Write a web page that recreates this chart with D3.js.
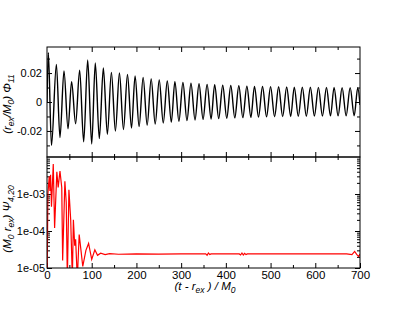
<!DOCTYPE html>
<html>
<head>
<meta charset="utf-8">
<script src="https://cdn.jsdelivr.net/npm/d3@7"></script>
<style>
body { margin: 0; background: #fff; }
svg { font-family: "Liberation Sans", Arial, sans-serif; }
</style>
</head>
<body>
<svg width="407" height="315"></svg>
<script>
// extrema of Phi_11
var phiT = [0, 3, 10, 21, 29, 38, 47, 55, 64, 73, 82, 91, 100, 108, 117, 126, 135,
    144, 153, 162, 171, 180, 189, 197, 206, 215, 224, 233, 242, 251, 260, 269, 278,
    286, 295, 304, 313, 322, 331, 340, 349, 358, 367, 375, 384, 393, 402, 411, 420,
    429, 438, 447, 456, 464, 473, 482, 491, 500, 509, 518, 527, 536, 545, 553, 562,
    571, 580, 589, 598, 607, 616, 625, 634, 642, 651, 660, 669, 678, 687, 695, 700];
var phiV = [0, 0.034, -0.030, 0.026, -0.0245, 0.0215, -0.0185, 0.014, -0.015, 0.022, -0.0275, 0.029, -0.029, 0.027, -0.0253, 0.0236, -0.0223,
    0.0205, -0.0200, 0.0200, -0.0190, 0.0190, -0.0180, 0.0180, -0.0170, 0.0170, -0.0160, 0.0160, -0.0152, 0.0152, -0.0145, 0.0145, -0.0139,
    0.0140, -0.0133, 0.0135, -0.0128, 0.0130, -0.0124, 0.0126, -0.0120, 0.0122, -0.0117, 0.0119, -0.0114, 0.0116, -0.0112, 0.0114, -0.0110,
    0.0112, -0.0108, 0.0110, -0.0106, 0.0108, -0.0104, 0.0107, -0.0103, 0.0106, -0.0102, 0.0105, -0.0101, 0.0104, -0.0100, 0.0103, -0.0099,
    0.0102, -0.0098, 0.0102, -0.0097, 0.0101, -0.0097, 0.0100, -0.0096, 0.0100, -0.0096, 0.0099, -0.0095, 0.0099, -0.0095, 0.0098, -0.002];

// |Psi_4,20| samples, lower panel
var psiT = [0, 2, 5, 6.5, 8, 10, 14, 17, 22, 25, 29, 33, 35, 40, 43, 45.5, 49, 53, 56.7, 59, 62, 64, 67.8,
    72, 76, 80, 87, 93, 100, 107, 113, 120, 130, 140, 160, 200, 250, 300, 355, 358, 361, 364, 367,
    400, 430, 433, 436, 439, 442, 445, 448, 500, 600, 670, 682, 688, 693, 697, 700];
var psiV = [2e-6, 1e-3, 3e-3, 1.2e-3, 3.3e-3, 4.5e-4, 6.5e-3, 1.2e-4, 4e-3, 1.5e-3, 4.2e-3, 1.5e-3, 1.6e-5, 2.2e-3, 6e-4, 5e-6, 1.3e-3, 2e-4, 5e-6, 2e-4, 4e-5, 6e-5, 5e-6,
    8e-5, 3e-5, 1.1e-5, 3e-5, 4.6e-5, 1.7e-5, 3.1e-5, 2.2e-5, 2.5e-5, 2.3e-5, 2.45e-5, 2.35e-5, 2.4e-5, 2.38e-5, 2.4e-5, 2.4e-5, 2.2e-5, 2.55e-5, 2.3e-5, 2.4e-5,
    2.4e-5, 2.4e-5, 2.25e-5, 2.55e-5, 2.25e-5, 2.5e-5, 2.3e-5, 2.4e-5, 2.4e-5, 2.4e-5, 2.4e-5, 2.3e-5, 2.8e-5, 2.3e-5, 2.05e-5, 2.4e-5];

var xMajor = [0, 100, 200, 300, 400, 500, 600, 700];
var xMinor = [50, 150, 250, 350, 450, 550, 650];
var phiMajor = [-0.02, 0, 0.02];
var phiMinor = [-0.03, -0.01, 0.01, 0.03];
var psiMajor = [1e-5, 1e-4, 1e-3];

var svg = d3.select('svg');
var left = 47, right = 360, top1 = 47, mid = 157, bot = 268;

var x = d3.scaleLinear().domain([0, 700]).range([left, right]);
var y1 = d3.scaleLinear().domain([-0.038, 0.038]).range([mid, top1]);
var y2 = d3.scaleLog().domain([1e-5, 1e-2]).range([bot, mid]);

var psiMinor = [];
[1e-5, 1e-4, 1e-3].forEach(function (d) {
    for (var k = 2; k <= 9; k++) psiMinor.push(d * k);
});

var defs = svg.append('defs');
defs.append('clipPath').attr('id', 'c1').append('rect')
    .attr('x', left).attr('y', top1).attr('width', right - left).attr('height', mid - top1);
defs.append('clipPath').attr('id', 'c2').append('rect')
    .attr('x', left).attr('y', mid).attr('width', right - left).attr('height', bot - mid);

function addAxis(axis, vals, size, tx, ty, pad, fs) {
    var g = svg.append('g').attr('transform', 'translate(' + tx + ',' + ty + ')')
        .call(axis.tickValues(vals).tickSizeInner(size).tickSizeOuter(0).tickPadding(pad || 0));
    g.select('.domain').remove();
    g.selectAll('line').attr('stroke', '#000');
    g.selectAll('text').attr('font-size', fs || 11.5).attr('fill', '#000');
    if (!pad) g.selectAll('text').remove();
    return g;
}

// upper panel ticks
addAxis(d3.axisBottom(x), xMinor, -3, 0, mid);
addAxis(d3.axisBottom(x), xMajor.slice(1, -1), -5, 0, mid);
addAxis(d3.axisTop(x), xMinor, -3, 0, top1);
addAxis(d3.axisTop(x), xMajor.slice(1, -1), -5, 0, top1);
addAxis(d3.axisLeft(y1), phiMinor, -3, left, 0);
addAxis(d3.axisLeft(y1), phiMajor, -5, left, 0, 5, 11)
    .selectAll('text').text(function (d) { return d === 0 ? '0' : d.toFixed(2); });
addAxis(d3.axisRight(y1), phiMinor, -3, right, 0);
addAxis(d3.axisRight(y1), phiMajor, -5, right, 0);

// lower panel ticks
addAxis(d3.axisTop(x), xMinor, -3, 0, mid);
addAxis(d3.axisTop(x), xMajor.slice(1, -1), -5, 0, mid);
addAxis(d3.axisBottom(x), xMinor, -3, 0, bot);
addAxis(d3.axisBottom(x), xMajor, -5, 0, bot, 3);
addAxis(d3.axisLeft(y2), psiMinor, -3, left, 0);
addAxis(d3.axisLeft(y2), psiMajor, -5, left, 0, 2, 11)
    .selectAll('text').text(function (d) { return d.toExponential(0).replace('e-', 'e-0'); });
addAxis(d3.axisRight(y2), psiMinor, -3, right, 0);
addAxis(d3.axisRight(y2), psiMajor, -5, right, 0);

// curves
var phiData = phiT.map(function (t, i) { return [t, phiV[i]]; });
var phiLine = d3.line()
    .x(function (d) { return x(d[0]); })
    .y(function (d) { return y1(d[1]); })
    .curve(d3.curveMonotoneX);
svg.append('path').datum(phiData)
    .attr('clip-path', 'url(#c1)')
    .attr('fill', 'none').attr('stroke', '#000').attr('stroke-width', 1.4)
    .attr('d', phiLine);

var psiData = psiT.map(function (t, i) { return [t, psiV[i]]; });
var psiLine = d3.line()
    .x(function (d) { return x(d[0]); })
    .y(function (d) { return y2(d[1]); });
svg.append('path').datum(psiData)
    .attr('clip-path', 'url(#c2)')
    .attr('fill', 'none').attr('stroke', '#f00').attr('stroke-width', 1.2)
    .attr('d', psiLine);

// frames
[[top1, mid], [mid, bot]].forEach(function (p) {
    svg.append('rect').attr('x', left).attr('y', p[0])
        .attr('width', right - left).attr('height', p[1] - p[0])
        .attr('fill', 'none').attr('stroke', '#000').attr('stroke-width', 1);
});

// axis titles
var xt = svg.append('text').attr('x', 205).attr('y', 290)
    .attr('text-anchor', 'middle').attr('font-size', 11.5).attr('font-style', 'italic');
xt.append('tspan').text('(t - r');
xt.append('tspan').attr('font-size', 8.5).attr('dy', 3).text('ex');
xt.append('tspan').attr('dy', -3).text(' ) / M');
xt.append('tspan').attr('font-size', 8.5).attr('dy', 3).text('0');

var yt1 = svg.append('text').attr('transform', 'translate(11,104) rotate(-90)')
    .attr('text-anchor', 'middle').attr('font-size', 11.5).attr('font-style', 'italic');
yt1.append('tspan').text('(r');
yt1.append('tspan').attr('font-size', 8.5).attr('dy', 3).text('ex');
yt1.append('tspan').attr('dy', -3).text('/M');
yt1.append('tspan').attr('font-size', 8.5).attr('dy', 3).text('0');
yt1.append('tspan').attr('dy', -3).text(') \u03A6');
yt1.append('tspan').attr('font-size', 8.5).attr('dy', 3).text('11');

var yt2 = svg.append('text').attr('transform', 'translate(11,219) rotate(-90)')
    .attr('text-anchor', 'middle').attr('font-size', 11.5).attr('font-style', 'italic');
yt2.append('tspan').text('(M');
yt2.append('tspan').attr('font-size', 8.5).attr('dy', 3).text('0');
yt2.append('tspan').attr('dy', -3).text(' r');
yt2.append('tspan').attr('font-size', 8.5).attr('dy', 3).text('ex');
yt2.append('tspan').attr('dy', -3).text(') \u03A8');
yt2.append('tspan').attr('font-size', 8.5).attr('dy', 3).text('4,20');
</script>
</body>
</html>
